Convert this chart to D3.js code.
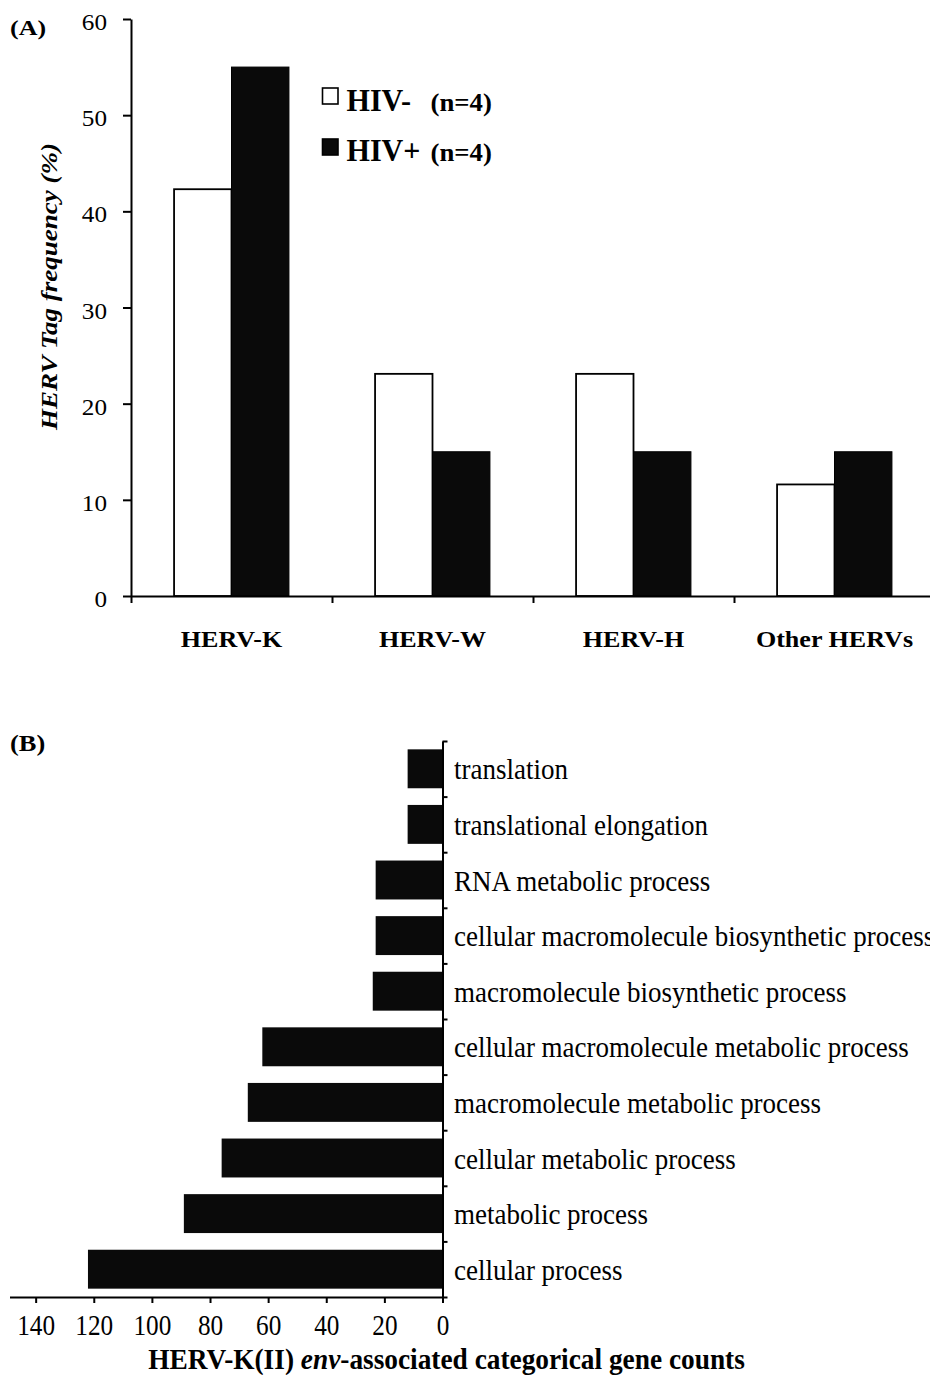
<!DOCTYPE html>
<html>
<head>
<meta charset="utf-8">
<script src="https://cdn.jsdelivr.net/npm/d3@7"></script>
<style>
  html, body { margin: 0; padding: 0; background: #fff; overflow: hidden; }
  svg { display: block; }
  text { font-family: "Liberation Serif", "Times New Roman", serif; fill: #000; }
</style>
</head>
<body>
<script>
// ---------------- DATA ----------------
const categoriesA = ["HERV-K", "HERV-W", "HERV-H", "Other HERVs"];
const seriesA = ["HIV-", "HIV+"];
const seriesNotes = ["(n=4)", "(n=4)"];
const hivNeg = [42.3, 23.1, 23.1, 11.6];
const hivPos = [55, 15, 15, 15];
const yTicksA = [0, 10, 20, 30, 40, 50, 60];

const categoriesB = [
  "translation",
  "translational elongation",
  "RNA metabolic process",
  "cellular macromolecule biosynthetic process",
  "macromolecule biosynthetic process",
  "cellular macromolecule metabolic process",
  "macromolecule metabolic process",
  "cellular metabolic process",
  "metabolic process",
  "cellular process"
];
const countsB = [12, 12, 23, 23, 24, 62, 67, 76, 89, 122];
const xTicksB = [0, 20, 40, 60, 80, 100, 120, 140];

// ---------------- SETUP ----------------
const W = 930, H = 1375;
const svg = d3.select("body").append("svg").attr("width", W).attr("height", H);
const BLACK = "#0a0a0a";

function label(parent, o) {
  const g = parent.append("g")
    .attr("transform", `translate(${o.x},${o.y})` + (o.rotate ? ` rotate(${o.rotate})` : ""));
  const t = g.append("text")
    .attr("text-anchor", o.anchor || "start")
    .style("font-size", o.size + "px")
    .style("font-weight", o.weight || "normal")
    .style("font-style", o.style || "normal");
  if (o.parts) {
    o.parts.forEach(p => {
      t.append("tspan").text(p.text)
        .style("font-style", p.style || null)
        .style("font-weight", p.weight || null);
    });
  } else {
    t.text(o.text);
  }
  if (o.width) {
    const L = t.node().getComputedTextLength();
    t.attr("transform", `scale(${o.width / L},1)`);
  } else if (o.sx) {
    t.attr("transform", `scale(${o.sx},1)`);
  }
  return t;
}

function styleAxis(g, sw) {
  g.attr("font-family", null).attr("font-size", null);
  g.selectAll("path.domain").attr("stroke", "#000").attr("stroke-width", sw);
  g.selectAll(".tick line").attr("stroke", "#000").attr("stroke-width", sw);
}

// ---------------- PANEL A ----------------
const yA = d3.scaleLinear().domain([0, 60]).range([596, 19]);
const xA = d3.scaleBand().domain(categoriesA).range([131, 935]).padding(0);
const x1 = d3.scaleBand().domain(seriesA).range([0, xA.bandwidth()])
  .paddingInner(0).paddingOuter(0.75);

const dataA = categoriesA.map((c, i) => ({ cat: c, vals: [hivNeg[i], hivPos[i]] }));

const barsA = svg.append("g");
dataA.forEach(d => {
  seriesA.forEach((s, j) => {
    barsA.append("rect")
      .attr("x", xA(d.cat) + x1(s))
      .attr("y", yA(d.vals[j]))
      .attr("width", x1.bandwidth())
      .attr("height", yA(0) - yA(d.vals[j]))
      .attr("fill", j === 0 ? "#fff" : BLACK)
      .attr("stroke", "#000")
      .attr("stroke-width", j === 0 ? 1.8 : 1);
  });
});

// Y axis A
const sxA = 1.12;
const gyA = svg.append("g").attr("transform", "translate(131,0)")
  .call(d3.axisLeft(yA).tickValues(yTicksA).tickSize(8).tickSizeOuter(0).tickPadding(16));
styleAxis(gyA, 2);
gyA.selectAll(".tick text")
  .style("font-size", "22.5px")
  .attr("dy", null).attr("y", 10.5)
  .each(function () {
    const t = d3.select(this);
    const x = +t.attr("x");
    t.attr("x", x / sxA).attr("transform", `scale(${sxA},1)`);
  });

// X axis A (ticks at category boundaries)
const xBoundA = d3.scaleLinear().domain([0, categoriesA.length]).range(xA.range());
const gxA = svg.append("g").attr("transform", "translate(0,596)")
  .call(d3.axisBottom(xBoundA).tickValues(d3.range(categoriesA.length + 1))
    .tickSize(7).tickSizeOuter(0).tickFormat(""));
styleAxis(gxA, 2);

categoriesA.forEach(c => {
  label(svg, { x: xA(c) + xA.bandwidth() / 2, y: 647, text: c, size: 23.7,
    weight: "bold", anchor: "middle", sx: 1.1 });
});

// Y label A
label(svg, { x: 57, y: 286.5, rotate: -90, text: "HERV Tag frequency (%)", size: 24,
  weight: "bold", style: "italic", anchor: "middle", width: 287 });

// Panel label
label(svg, { x: 10, y: 35, text: "(A)", size: 22, weight: "bold", sx: 1.18 });

// Legend
const legendY = [88, 139];
const legendBase = [111, 161];
seriesA.forEach((s, j) => {
  svg.append("rect")
    .attr("x", 322.5).attr("y", legendY[j])
    .attr("width", 15.5).attr("height", 16)
    .attr("fill", j === 0 ? "#fff" : BLACK)
    .attr("stroke", "#000").attr("stroke-width", 1.6);
  label(svg, { x: 346.5, y: legendBase[j], text: s, size: 32, weight: "bold", sx: 0.94 });
  label(svg, { x: 430.5, y: legendBase[j], text: seriesNotes[j], size: 26, weight: "bold", sx: 1.03 });
});

// ---------------- PANEL B ----------------
const xB = d3.scaleLinear().domain([0, 149]).range([442.5, 9.5]);
const yB = d3.scaleBand().domain(categoriesB).range([741, 1297])
  .paddingInner(0.3).paddingOuter(0.15);

const barsB = svg.append("g");
categoriesB.forEach((c, i) => {
  barsB.append("rect")
    .attr("x", xB(countsB[i]))
    .attr("y", yB(c))
    .attr("width", xB(0) - xB(countsB[i]))
    .attr("height", yB.bandwidth())
    .attr("fill", BLACK);
});

// Y axis B (ticks on the right side, at category boundaries)
const yBoundB = d3.scaleLinear().domain([0, categoriesB.length]).range(yB.range());
const gyB = svg.append("g").attr("transform", "translate(442.5,0)")
  .call(d3.axisRight(yBoundB).tickValues(d3.range(categoriesB.length + 1))
    .tickSize(5).tickSizeOuter(0).tickFormat(""));
styleAxis(gyB, 2);

// X axis B
const sxB = 0.87;
const gxB = svg.append("g").attr("transform", "translate(0,1297)")
  .call(d3.axisBottom(xB).tickValues(xTicksB).tickSize(6).tickSizeOuter(0));
styleAxis(gxB, 2);
gxB.selectAll(".tick text")
  .style("font-size", "29px")
  .attr("dy", null).attr("y", 38)
  .attr("transform", `scale(${sxB},1)`);

// Category labels B
categoriesB.forEach(c => {
  label(svg, { x: 454, y: yB(c) + yB.bandwidth() / 2 + 10.5, text: c, size: 30, sx: 0.9 });
});

// X title B
label(svg, { x: 446.5, y: 1369, size: 30, weight: "bold", anchor: "middle", width: 597,
  parts: [
    { text: "HERV-K(II) " },
    { text: "env", style: "italic" },
    { text: "-associated categorical gene counts" }
  ] });

// Panel label B
label(svg, { x: 10, y: 751, text: "(B)", size: 23, weight: "bold", sx: 1.15 });
</script>
</body>
</html>
